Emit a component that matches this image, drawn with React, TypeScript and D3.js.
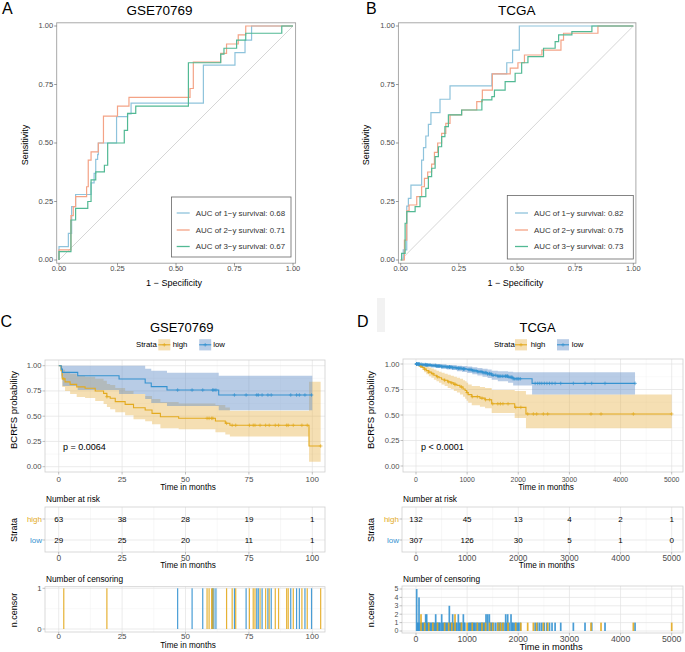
import React from "react";
import * as d3 from "d3";

const FONT = "'Liberation Sans', Arial, Helvetica, sans-serif";

// ---------------- ROC data ----------------
const rocLegendLabels = ["AUC of 1\u2212y survival", "AUC of 2\u2212y survival", "AUC of 3\u2212y survival"];
const rocColors = ["#8EC3DC", "#F4A386", "#52B994"];
const rocTicks = [0, 0.25, 0.5, 0.75, 1];

const rocGse1y: [number, number][] = [[0,0.057],[0.04,0.114],[0.054,0.228],[0.071,0.28],[0.137,0.33],[0.15,0.37],[0.157,0.43],[0.165,0.45],[0.168,0.5],[0.246,0.613],[0.293,0.624],[0.308,0.67],[0.617,0.833],[0.752,0.886],[0.795,0.94],[0.823,1],[1,1]];
const rocGse2y: [number, number][] = [[0,0.043],[0.051,0.19],[0.061,0.228],[0.071,0.271],[0.118,0.313],[0.125,0.427],[0.137,0.462],[0.168,0.5],[0.19,0.615],[0.25,0.658],[0.299,0.695],[0.56,0.733],[0.574,0.846],[0.691,0.883],[0.716,0.923],[0.766,0.962],[0.798,1],[1,1]];
const rocGse3y: [number, number][] = [[0,0.036],[0.051,0.171],[0.071,0.221],[0.123,0.25],[0.137,0.342],[0.157,0.377],[0.194,0.405],[0.208,0.5],[0.279,0.554],[0.293,0.627],[0.328,0.658],[0.553,0.843],[0.691,0.88],[0.705,0.905],[0.759,0.94],[0.798,0.969],[0.952,1],[1,1]];
const aucGse = [0.68, 0.71, 0.67];

const rocTcga1y: [number, number][] = [[0.011,0.043],[0.026,0.23],[0.033,0.263],[0.044,0.32],[0.09,0.427],[0.098,0.48],[0.108,0.53],[0.119,0.58],[0.13,0.63],[0.169,0.687],[0.212,0.744],[0.392,0.795],[0.456,0.843],[0.481,0.897],[0.51,1],[1,1]];
const rocTcga2y: [number, number][] = [[0.016,0.085],[0.026,0.21],[0.036,0.235],[0.069,0.271],[0.09,0.313],[0.102,0.349],[0.116,0.376],[0.133,0.41],[0.145,0.46],[0.159,0.5],[0.176,0.541],[0.194,0.584],[0.212,0.62],[0.262,0.641],[0.327,0.677],[0.351,0.726],[0.394,0.795],[0.471,0.82],[0.504,0.843],[0.532,0.876],[0.607,0.897],[0.689,0.94],[0.7,0.969],[0.848,1],[1,1]];
const rocTcga3y: [number, number][] = [[0.004,0.028],[0.019,0.157],[0.026,0.207],[0.062,0.228],[0.083,0.271],[0.108,0.306],[0.119,0.356],[0.133,0.392],[0.148,0.442],[0.162,0.484],[0.176,0.527],[0.19,0.57],[0.205,0.62],[0.262,0.641],[0.349,0.684],[0.392,0.698],[0.403,0.726],[0.449,0.762],[0.492,0.798],[0.52,0.843],[0.547,0.869],[0.614,0.905],[0.664,0.933],[0.679,0.962],[0.736,0.976],[0.822,1],[1,1]];
const aucTcga = [0.82, 0.75, 0.73];

// ---------------- KM data: GSE70769 (months) ----------------
const kmGseHighTime = [0, 0.9, 1.4, 2.5, 4.5, 7.1, 10.4, 14.4, 17.7, 19, 20.3, 22.3, 26.2, 29.5, 34.1, 36.8, 40.1, 47.3, 61.8, 65.7, 67.5, 98.7];
const kmGseHighSurv = [1, 0.95, 0.87, 0.84, 0.815, 0.79, 0.776, 0.75, 0.726, 0.693, 0.677, 0.644, 0.617, 0.584, 0.561, 0.528, 0.495, 0.479, 0.452, 0.43, 0.41, 0.205];
const kmGseHighUpper = [1, 1, 0.96, 0.94, 0.92, 0.9, 0.89, 0.87, 0.85, 0.82, 0.81, 0.78, 0.75, 0.72, 0.7, 0.67, 0.64, 0.625, 0.61, 0.585, 0.555, 0.84];
const kmGseHighLower = [1, 0.9, 0.79, 0.75, 0.72, 0.69, 0.68, 0.65, 0.62, 0.59, 0.57, 0.54, 0.51, 0.47, 0.45, 0.42, 0.38, 0.37, 0.34, 0.32, 0.3, 0.05];
const kmGseHighCensor = [2, 19, 58.5, 59.3, 60.3, 60.8, 66.2, 68.4, 69.8, 75.2, 76.7, 77.4, 79.4, 81.6, 83, 85.4, 86.7, 89.9, 90.5, 92.5, 95.9, 98, 103.3];
const kmGseHighEnd = 103.3;

const kmGseLowTime = [0, 1, 1.5, 7.5, 23.8, 34.1, 36.5, 42.7, 63.1];
const kmGseLowSurv = [1, 0.966, 0.934, 0.9, 0.868, 0.828, 0.793, 0.759, 0.71];
const kmGseLowUpper = [1, 1, 1, 1, 1, 0.97, 0.95, 0.93, 0.9];
const kmGseLowLower = [1, 0.88, 0.8, 0.76, 0.72, 0.67, 0.63, 0.6, 0.56];
const kmGseLowCensor = [46.9, 52.6, 56.8, 60.7, 61.2, 62, 69.3, 73.9, 78.1, 78.7, 80.2, 82.5, 83.8, 91.5, 93.8, 94.9, 97.1, 99.7];
const kmGseLowEnd = 100;

// ---------------- KM data: TCGA ----------------
const kmTcgaHighTime = [0, 40, 80, 120, 160, 200, 250, 300, 350, 400, 450, 500, 560, 620, 680, 740, 800, 860, 920, 960, 990, 1020, 1090, 1250, 1350, 1480, 1930, 2150];
const kmTcgaHighSurv = [1, 0.99, 0.98, 0.965, 0.95, 0.935, 0.92, 0.905, 0.89, 0.875, 0.865, 0.85, 0.84, 0.825, 0.815, 0.8, 0.79, 0.775, 0.755, 0.74, 0.72, 0.7, 0.68, 0.665, 0.65, 0.61, 0.575, 0.51];
const kmTcgaHighUpper = [1, 1, 1, 0.995, 0.985, 0.975, 0.965, 0.955, 0.945, 0.935, 0.925, 0.915, 0.905, 0.895, 0.885, 0.875, 0.865, 0.855, 0.84, 0.83, 0.815, 0.8, 0.785, 0.775, 0.765, 0.745, 0.735, 0.7];
const kmTcgaHighLower = [1, 0.975, 0.96, 0.94, 0.92, 0.9, 0.88, 0.865, 0.845, 0.83, 0.815, 0.8, 0.785, 0.765, 0.755, 0.735, 0.72, 0.7, 0.68, 0.66, 0.64, 0.62, 0.595, 0.58, 0.565, 0.52, 0.47, 0.37];
const kmTcgaHighCensor = [98, 98, 170, 250, 330, 420, 560, 640, 700, 763, 763, 890, 1000, 1100, 1200, 1290, 1360, 1440, 1500, 1600, 1650, 1700, 1800, 1950, 2050, 2184, 2295, 2360, 2490, 2575, 3422, 3618, 4250, 5000];
const kmTcgaHighEnd = 5000;

const kmTcgaLowTime = [0, 50, 120, 200, 300, 400, 500, 600, 700, 800, 900, 1000, 1100, 1200, 1300, 1400, 1480, 1600, 1800, 1900, 2270];
const kmTcgaLowSurv = [1, 0.997, 0.993, 0.99, 0.985, 0.98, 0.975, 0.97, 0.965, 0.958, 0.952, 0.945, 0.935, 0.925, 0.915, 0.905, 0.89, 0.88, 0.87, 0.855, 0.81];
const kmTcgaLowUpper = [1, 1, 1, 1, 1, 1, 0.995, 0.99, 0.988, 0.984, 0.98, 0.975, 0.967, 0.96, 0.953, 0.946, 0.935, 0.93, 0.925, 0.92, 0.92];
const kmTcgaLowLower = [1, 0.99, 0.985, 0.978, 0.97, 0.962, 0.955, 0.947, 0.94, 0.93, 0.922, 0.912, 0.9, 0.888, 0.875, 0.862, 0.845, 0.83, 0.815, 0.79, 0.7];
const kmTcgaLowCensor = [13,13,13,13,13,30,45,59,59,59,59,80,110,130,150,170,189,189,209,209,225,240,260,280,300,320,340,360,385,385,400,420,440,455,470,502,502,520,540,560,580,600,620,652,652,652,670,690,717,717,740,760,780,800,828,828,850,870,893,926,926,940,955,1030,1050,1070,1090,1110,1130,1150,1175,1200,1225,1250,1270,1290,1310,1330,1350,1369,1369,1401,1401,1434,1434,1447,1470,1490,1520,1560,1600,1620,1640,1660,1690,1720,1754,1754,1775,1793,1793,1820,1858,1858,1880,1900,1930,1960,1990,2010,2040,2330,2380,2420,2460,2510,2560,2610,2660,2720,2830,3077,3305,3436,3696,4283];
const kmTcgaLowEnd = 4283;

// ---------------- risk tables ----------------
const riskGseTimes = [0, 25, 50, 75, 100];
const riskGseHigh = [63, 38, 28, 19, 1];
const riskGseLow = [29, 25, 20, 11, 1];
const riskTcgaTimes = [0, 1000, 2000, 3000, 4000, 5000];
const riskTcgaHigh = [132, 45, 13, 4, 2, 1];
const riskTcgaLow = [307, 126, 30, 5, 1, 0];

const gseTicks = [0, 25, 50, 75, 100];
const gseMinor = [12.5, 37.5, 62.5, 87.5];
const tcgaTicks = [0, 1000, 2000, 3000, 4000, 5000];
const tcgaMinor = [500, 1500, 2500, 3500, 4500];
const survTicks = [0, 0.25, 0.5, 0.75, 1];
const survMinor = [0.125, 0.375, 0.625, 0.875];

const HIGH = "#E3AA1F";
const LOW = "#3592D0";
const HIGH_FILL = "#E7B24A";
const LOW_FILL = "#618EC7";
const GRID_MAJ = "#E3E3E3";
const GRID_MIN = "#EFEFEF";
const BORDER = "#CFCFCF";
const TICKTXT = "#4D4D4D";

type Series = { time: number[]; surv: number[]; upper: number[]; lower: number[]; censor: number[]; end: number; color: string; fill: string; fop: number };

function RocPanel(props: any) {
  const { letter, letterX, title, titleX, xr, curves, aucs, box, lineX0, textX, ylabX, xlabX } = props;
  const x = d3.scaleLinear().domain([0, 1]).range(xr);
  const y = d3.scaleLinear().domain([0, 1]).range([260, 26]);
  const pl = xr[0] - 2.3, pr = xr[1] + 2.6, pt = 22.8, pb = 263.2;
  const line = d3.line<[number, number]>().x(d => x(d[0])).y(d => y(d[1])).curve(d3.curveStepAfter);
  const fmt = d3.format(".2f");
  const itemY = [213, 230, 246.5];
  return (
    <g>
      <text x={letterX} y={13.8} fontSize={16}>{letter}</text>
      <text x={titleX} y={15} fontSize={13.5} textAnchor="middle">{title}</text>
      <rect x={pl} y={pt} width={pr - pl} height={pb - pt} fill="white" stroke="#A0A0A0" strokeWidth={0.9} />
      <line x1={x(0)} y1={y(0)} x2={x(1)} y2={y(1)} stroke="#C4C4C4" strokeWidth={0.7} />
      {curves.map((c: [number, number][], i: number) => (
        <path key={i} d={line([[0, 0], ...c]) || ""} fill="none" stroke={rocColors[i]} strokeWidth={1.2} />
      ))}
      {rocTicks.map(t => (
        <g key={"y" + t}>
          <line x1={pl - 2.5} x2={pl} y1={y(t)} y2={y(t)} stroke="#555" strokeWidth={0.6} />
          <text x={pl - 3.5} y={y(t)} dy="0.33em" fontSize={7.5} textAnchor="end" fill={TICKTXT}>{fmt(t)}</text>
        </g>
      ))}
      {rocTicks.map(t => (
        <g key={"x" + t}>
          <line x1={x(t)} x2={x(t)} y1={pb} y2={pb + 2.5} stroke="#555" strokeWidth={0.6} />
          <text x={x(t)} y={271.3} fontSize={7.5} textAnchor="middle" fill={TICKTXT}>{fmt(t)}</text>
        </g>
      ))}
      <text x={xlabX} y={285.5} fontSize={9} textAnchor="middle">1 {"\u2212"} Specificity</text>
      <text transform={`translate(${ylabX},145) rotate(-90)`} fontSize={9} textAnchor="middle">Sensitivity</text>
      <rect x={box[0]} y={box[1]} width={box[2]} height={box[3]} fill="white" stroke="#666" strokeWidth={0.8} />
      {aucs.map((a: number, i: number) => (
        <g key={"l" + i}>
          <line x1={lineX0} x2={lineX0 + 13} y1={itemY[i]} y2={itemY[i]} stroke={rocColors[i]} strokeWidth={1.3} />
          <text x={textX} y={itemY[i]} dy="0.34em" fontSize={7.9} fill="#333">{rocLegendLabels[i]}: {fmt(a)}</text>
        </g>
      ))}
    </g>
  );
}

function Plus({ cx, cy, color, s = 1.8 }: any) {
  return (
    <g stroke={color} strokeWidth={0.7}>
      <line x1={cx - s} x2={cx + s} y1={cy} y2={cy} />
      <line x1={cx} x2={cx} y1={cy - s} y2={cy + s} />
    </g>
  );
}

function Grid({ l, r, t, b, xs, ys, xMaj, xMin, yMaj, yMin }: any) {
  return (
    <g>
      {xMin.map((v: number) => <line key={"xm" + v} x1={xs(v)} x2={xs(v)} y1={t} y2={b} stroke={GRID_MIN} strokeWidth={0.4} />)}
      {yMin.map((v: number) => <line key={"ym" + v} x1={l} x2={r} y1={ys(v)} y2={ys(v)} stroke={GRID_MIN} strokeWidth={0.4} />)}
      {xMaj.map((v: number) => <line key={"xM" + v} x1={xs(v)} x2={xs(v)} y1={t} y2={b} stroke={GRID_MAJ} strokeWidth={0.7} />)}
      {yMaj.map((v: number) => <line key={"yM" + v} x1={l} x2={r} y1={ys(v)} y2={ys(v)} stroke={GRID_MAJ} strokeWidth={0.7} />)}
    </g>
  );
}

function KmPanel(props: any) {
  const { l, r, t, b, xr, xmax, yr, xTicks, xMinor, series, xtickSize, pText, pX, ylabX, xlabX } = props;
  const x = d3.scaleLinear().domain([0, xmax]).range(xr);
  const y = d3.scaleLinear().domain([0, 1]).range(yr);
  const fmt = d3.format(".2f");
  return (
    <g>
      <rect x={l} y={t} width={r - l} height={b - t} fill="white" />
      <Grid l={l} r={r} t={t} b={b} xs={x} ys={y} xMaj={xTicks} xMin={xMinor} yMaj={survTicks} yMin={survMinor} />
      {series.map((s: Series, i: number) => {
        const pts = s.time.map((tt, k) => ({ t: tt, u: s.upper[k], lo: s.lower[k] }));
        pts.push({ t: s.end, u: s.upper[s.upper.length - 1], lo: s.lower[s.lower.length - 1] });
        const area = d3.area<any>().x(d => x(d.t)).y0(d => y(d.lo)).y1(d => y(d.u)).curve(d3.curveStepAfter);
        return <path key={"a" + i} d={area(pts) || ""} fill={s.fill} fillOpacity={s.fop} />;
      })}
      {series.map((s: Series, i: number) => {
        const pts = s.time.map((tt, k) => [tt, s.surv[k]] as [number, number]);
        pts.push([s.end, s.surv[s.surv.length - 1]]);
        const ln = d3.line<[number, number]>().x(d => x(d[0])).y(d => y(d[1])).curve(d3.curveStepAfter);
        return <path key={"l" + i} d={ln(pts) || ""} fill="none" stroke={s.color} strokeWidth={1.1} />;
      })}
      {series.map((s: Series, i: number) => (
        <g key={"c" + i}>
          {s.censor.map((c, k) => {
            const idx = Math.max(0, d3.bisectRight(s.time, c) - 1);
            return <Plus key={k} cx={x(c)} cy={y(s.surv[idx])} color={s.color} />;
          })}
        </g>
      ))}
      <rect x={l} y={t} width={r - l} height={b - t} fill="none" stroke={BORDER} strokeWidth={0.8} />
      {survTicks.map(v => (
        <g key={"yt" + v}>
          <line x1={l - 2.5} x2={l} y1={y(v)} y2={y(v)} stroke="#999" strokeWidth={0.6} />
          <text x={l - 3.5} y={y(v)} dy="0.33em" fontSize={7.6} textAnchor="end" fill={TICKTXT}>{fmt(v)}</text>
        </g>
      ))}
      {xTicks.map((v: number) => (
        <g key={"xt" + v}>
          <line x1={x(v)} x2={x(v)} y1={b} y2={b + 2.5} stroke="#999" strokeWidth={0.6} />
          <text x={x(v)} y={482} fontSize={xtickSize} textAnchor="middle" fill={TICKTXT}>{v}</text>
        </g>
      ))}
      <text x={pX} y={450} fontSize={9}>{pText}</text>
      <text x={xlabX} y={489.5} fontSize={8.2} textAnchor="middle">Time in months</text>
      <text transform={`translate(${ylabX},410) rotate(-90)`} fontSize={9.5} textAnchor="middle">BCRFS probability</text>
    </g>
  );
}

function StrataLegend({ sx, k1, t1, k2, t2 }: any) {
  const cy = 344.8;
  const key = (kx: number, fill: string, fop: number, col: string) => (
    <g>
      <rect x={kx} y={cy - 5.6} width={12} height={11.2} fill={fill} fillOpacity={fop} />
      <line x1={kx} x2={kx + 12} y1={cy} y2={cy} stroke={col} strokeWidth={1.1} />
      <Plus cx={kx + 6} cy={cy} color={col} />
    </g>
  );
  return (
    <g fontSize={7.8}>
      <text x={sx} y={cy} dy="0.33em">Strata</text>
      {key(k1, HIGH_FILL, 0.42, HIGH)}
      <text x={t1} y={cy} dy="0.33em">high</text>
      {key(k2, LOW_FILL, 0.45, LOW)}
      <text x={t2} y={cy} dy="0.33em">low</text>
    </g>
  );
}

function RiskTable(props: any) {
  const { l, r, t, b, xr, xmax, xTicks, xMinor, times, high, low, ylabX, xlabX, tickSize } = props;
  const x = d3.scaleLinear().domain([0, xmax]).range(xr);
  const rows = d3.scalePoint<string>().domain(["high", "low"]).range([519, 540]);
  const rowY = (v: string) => rows(v) as number;
  return (
    <g>
      <text x={l + 1} y={501.7} fontSize={8.3}>Number at risk</text>
      <rect x={l} y={t} width={r - l} height={b - t} fill="white" />
      {xMinor.map((v: number) => <line key={"m" + v} x1={x(v)} x2={x(v)} y1={t} y2={b} stroke={GRID_MIN} strokeWidth={0.5} />)}
      {xTicks.map((v: number) => <line key={"M" + v} x1={x(v)} x2={x(v)} y1={t} y2={b} stroke={GRID_MAJ} strokeWidth={0.7} />)}
      {["high", "low"].map(k => <line key={"h" + k} x1={l} x2={r} y1={rowY(k)} y2={rowY(k)} stroke={GRID_MAJ} strokeWidth={0.7} />)}
      <rect x={l} y={t} width={r - l} height={b - t} fill="none" stroke={BORDER} strokeWidth={0.8} />
      {times.map((tt: number, i: number) => (
        <g key={"v" + i} fontSize={8}>
          <text x={x(tt)} y={rowY("high")} dy="0.35em" textAnchor="middle">{high[i]}</text>
          <text x={x(tt)} y={rowY("low")} dy="0.35em" textAnchor="middle">{low[i]}</text>
        </g>
      ))}
      {["high", "low"].map(k => (
        <g key={"s" + k}>
          <line x1={l - 2.5} x2={l} y1={rowY(k)} y2={rowY(k)} stroke="#999" strokeWidth={0.6} />
          <text x={l - 3} y={rowY(k)} dy="0.35em" fontSize={8} textAnchor="end" fill={k === "high" ? HIGH : LOW}>{k}</text>
        </g>
      ))}
      {xTicks.map((v: number) => (
        <g key={"xt" + v}>
          <line x1={x(v)} x2={x(v)} y1={b} y2={b + 2.5} stroke="#999" strokeWidth={0.6} />
          <text x={x(v)} y={560.7} fontSize={tickSize} textAnchor="middle" fill={TICKTXT}>{v}</text>
        </g>
      ))}
      <text x={xlabX} y={568.3} fontSize={8.2} textAnchor="middle">Time in months</text>
      <text transform={`translate(${ylabX},530) rotate(-90)`} fontSize={9} textAnchor="middle">Strata</text>
    </g>
  );
}

function CensorPlot(props: any) {
  const { l, r, t, b, xr, xmax, yr, ymax, yTicks, yMinor, xTicks, xMinor, highC, lowC, barW, ylabX, xlabX, xlabSize, xlabY, tickSize, tickY, yTickSize } = props;
  const x = d3.scaleLinear().domain([0, xmax]).range(xr);
  const y = d3.scaleLinear().domain([0, ymax]).range(yr);
  const hi = Array.from(d3.rollup(highC as number[], v => v.length, d => d));
  const lo = Array.from(d3.rollup(lowC as number[], v => v.length, d => d));
  return (
    <g>
      <text x={l + 1} y={581.7} fontSize={8.3}>Number of censoring</text>
      <rect x={l} y={t} width={r - l} height={b - t} fill="white" />
      <Grid l={l} r={r} t={t} b={b} xs={x} ys={y} xMaj={xTicks} xMin={xMinor} yMaj={yTicks} yMin={yMinor} />
      {lo.map(([tt, n]) => <rect key={"l" + tt} x={x(tt) - barW / 2} y={y(n)} width={barW} height={y(0) - y(n)} fill={LOW} fillOpacity={0.9} />)}
      {hi.map(([tt, n]) => <rect key={"h" + tt} x={x(tt) - barW / 2} y={y(n)} width={barW} height={y(0) - y(n)} fill={HIGH} fillOpacity={0.9} />)}
      <rect x={l} y={t} width={r - l} height={b - t} fill="none" stroke={BORDER} strokeWidth={0.8} />
      {yTicks.map((v: number) => (
        <g key={"yt" + v}>
          <line x1={l - 2.5} x2={l} y1={y(v)} y2={y(v)} stroke="#999" strokeWidth={0.6} />
          <text x={l - 3.5} y={y(v)} dy="0.33em" fontSize={yTickSize} textAnchor="end" fill={TICKTXT}>{v}</text>
        </g>
      ))}
      {xTicks.map((v: number) => (
        <g key={"xt" + v}>
          <line x1={x(v)} x2={x(v)} y1={b} y2={b + 2.5} stroke="#999" strokeWidth={0.6} />
          <text x={x(v)} y={tickY} fontSize={tickSize} textAnchor="middle" fill={TICKTXT}>{v}</text>
        </g>
      ))}
      <text x={xlabX} y={xlabY} fontSize={xlabSize} textAnchor="middle">Time in months</text>
      <text transform={`translate(${ylabX},610) rotate(-90)`} fontSize={9} textAnchor="middle">n.censor</text>
    </g>
  );
}

export default function App() {
  const gseSeries: Series[] = [
    { time: kmGseHighTime, surv: kmGseHighSurv, upper: kmGseHighUpper, lower: kmGseHighLower, censor: kmGseHighCensor, end: kmGseHighEnd, color: HIGH, fill: HIGH_FILL, fop: 0.42 },
    { time: kmGseLowTime, surv: kmGseLowSurv, upper: kmGseLowUpper, lower: kmGseLowLower, censor: kmGseLowCensor, end: kmGseLowEnd, color: LOW, fill: LOW_FILL, fop: 0.45 },
  ];
  const tcgaSeries: Series[] = [
    { time: kmTcgaHighTime, surv: kmTcgaHighSurv, upper: kmTcgaHighUpper, lower: kmTcgaHighLower, censor: kmTcgaHighCensor, end: kmTcgaHighEnd, color: HIGH, fill: HIGH_FILL, fop: 0.42 },
    { time: kmTcgaLowTime, surv: kmTcgaLowSurv, upper: kmTcgaLowUpper, lower: kmTcgaLowLower, censor: kmTcgaLowCensor, end: kmTcgaLowEnd, color: LOW, fill: LOW_FILL, fop: 0.45 },
  ];
  return (
    <svg width={685} height={652} viewBox="0 0 685 652" style={{ position: "absolute", left: 0, top: 0 }} fontFamily={FONT}>
      <rect width={685} height={652} fill="white" />
      <RocPanel letter="A" letterX={2} title="GSE70769" titleX={159.5} xr={[59, 293]}
        curves={[rocGse1y, rocGse2y, rocGse3y]} aucs={aucGse} box={[171.5, 197, 119.5, 60]}
        lineX0={176.7} textX={195.8} ylabX={27.5} xlabX={174} />
      <RocPanel letter="B" letterX={366} title="TCGA" titleX={516.7} xr={[400.7, 633.3]}
        curves={[rocTcga1y, rocTcga2y, rocTcga3y]} aucs={aucTcga} box={[507.3, 195.5, 126, 63.5]}
        lineX0={515} textX={534} ylabX={368.7} xlabX={515.3} />

      <text x={0.5} y={326.7} fontSize={16}>C</text>
      <text x={181.7} y={331.7} fontSize={13} textAnchor="middle">GSE70769</text>
      <StrataLegend sx={136} k1={158.3} t1={172.7} k2={199.2} t2={213.3} />
      <KmPanel l={45} r={325} t={360} b={472} xr={[58.7, 312.3]} xmax={100} yr={[466.7, 365.7]}
        xTicks={gseTicks} xMinor={gseMinor} series={gseSeries} xtickSize={8} pText="p = 0.0064" pX={63}
        ylabX={16.5} xlabX={188} />
      <RiskTable l={45} r={325} t={507} b={552} xr={[58.7, 312.3]} xmax={100} xTicks={gseTicks} xMinor={gseMinor}
        times={riskGseTimes} high={riskGseHigh} low={riskGseLow} ylabX={16.5} xlabX={188} tickSize={8.3} />
      <CensorPlot l={45} r={325} t={586.7} b={632} xr={[58.7, 312.3]} xmax={100} yr={[629, 588.3]} ymax={1}
        yTicks={[0, 1]} yMinor={[0.5]} xTicks={gseTicks} xMinor={gseMinor} highC={kmGseHighCensor} lowC={kmGseLowCensor}
        barW={1.2} ylabX={16.5} xlabX={188} xlabSize={8.2} xlabY={647.5} tickSize={8} tickY={639} yTickSize={7.8} />

      <rect x={377} y={298} width={8} height={34} fill="#F2F2F2" />
      <text x={357} y={326.7} fontSize={16}>D</text>
      <text x={537.5} y={331.7} fontSize={13} textAnchor="middle">TCGA</text>
      <StrataLegend sx={494} k1={515} t1={530.7} k2={557} t2={571.7} />
      <KmPanel l={403} r={683} t={359} b={472} xr={[416, 671.7]} xmax={5000} yr={[466, 364]}
        xTicks={tcgaTicks} xMinor={tcgaMinor} series={tcgaSeries} xtickSize={6.9} pText="p < 0.0001" pX={421}
        ylabX={373.5} xlabX={546} />
      <RiskTable l={402} r={683} t={507} b={552} xr={[416, 671.7]} xmax={5000} xTicks={tcgaTicks} xMinor={tcgaMinor}
        times={riskTcgaTimes} high={riskTcgaHigh} low={riskTcgaLow} ylabX={373.5} xlabX={546.7} tickSize={8.3} />
      <CensorPlot l={402} r={683} t={586} b={633} xr={[416, 671.7]} xmax={5000} yr={[631, 589]} ymax={5}
        yTicks={[0, 1, 2, 3, 4, 5]} yMinor={[]} xTicks={tcgaTicks} xMinor={tcgaMinor} highC={kmTcgaHighCensor} lowC={kmTcgaLowCensor}
        barW={1.7} ylabX={374} xlabX={551} xlabSize={9.3} xlabY={650.3} tickSize={8.7} tickY={641.5} yTickSize={7} />
    </svg>
  );
}
